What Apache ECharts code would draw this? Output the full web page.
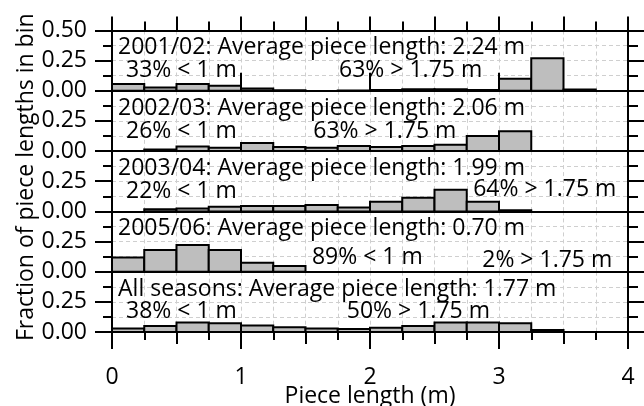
<!DOCTYPE html>
<html><head><meta charset="utf-8">
<script src="https://cdn.jsdelivr.net/npm/echarts@6/dist/echarts.min.js"></script>
<style>html,body{margin:0;padding:0;background:#fff}#c{width:644px;height:406px}</style>
</head><body><div id="c"></div><script>
// ---- data ----
const binEdges = [0,0.25,0.5,0.75,1,1.25,1.5,1.75,2,2.25,2.5,2.75,3,3.25,3.5,3.75,4];
const seasons = ['2001/02','2002/03','2003/04','2005/06','All seasons'];
const avgLength = ['2.24','2.06','1.99','0.70','1.77'];
const pctBelow1 = ['33%','26%','22%','89%','38%'];
const pctAbove175 = ['63%','63%','64%','2%','50%'];
const frac0102 = [0.057,0.028,0.056,0.042,0.020,0.004,0,0.002,0.006,0.012,0.012,0.006,0.100,0.270,0.010,0];
const frac0203 = [0,0.014,0.039,0.028,0.067,0.033,0.028,0.042,0.033,0.042,0.053,0.125,0.164,0,0,0];
const frac0304 = [0,0.017,0.025,0.039,0.044,0.044,0.053,0.033,0.080,0.114,0.180,0.080,0.010,0,0,0];
const frac0506 = [0.117,0.180,0.222,0.180,0.075,0.047,0,0,0,0,0,0,0,0,0,0];
const fracAll  = [0.030,0.050,0.078,0.072,0.053,0.039,0.030,0.025,0.036,0.050,0.078,0.078,0.072,0.017,0,0];
const panelValues = [frac0102, frac0203, frac0304, frac0506, fracAll];
const xTickLabels = ['0','1','2','3','4'];
// annotation anchors in data units [x, y]
const titleAnchor = [0.047, 0.356];
const lowAnchors  = [[0.109,0.167],[0.109,0.167],[0.109,0.162],[1.55,0.116],[0.109,0.167]];
const highAnchors = [[1.76,0.167],[1.56,0.167],[2.80,0.186],[2.87,0.097],[1.82,0.167]];

// ---- chart ----
const FS = 23, FONT = 'Open Sans';
const BLK = {color:'#000', width:2};
const DASH = {color:'#cfcfcf', width:1, type:[4,3]};
const N = 5, TOP0 = 30.5, PH = 60.3;
const TXT = {fontSize:FS, fontFamily:FONT, color:'#000', textBorderWidth:0, opacity:1};
const grids = [], xAxes = [], yAxes = [], series = [];
for (let i = 0; i < N; i++) {
  grids.push({left:112, right:16, top:TOP0 + i*PH, height:PH, outerBoundsMode:'none', containLabel:false});
  const xi = xAxes.length;
  xAxes.push({gridIndex:i, type:'value', min:0, max:4, interval:0.5, position:'bottom',
    axisLine:{show:true, onZero:false, lineStyle:BLK},
    axisTick:{show:i===N-1, length:12, lineStyle:BLK},
    minorTick:{show:i===N-1, splitNumber:2, length:8, lineStyle:BLK},
    splitLine:{show:true, lineStyle:DASH}, minorSplitLine:{show:true, lineStyle:DASH},
    axisLabel:{show:false}});
  if (i === N-1) {
    xAxes.push({gridIndex:i, type:'value', min:0, max:4, interval:1, position:'bottom',
      axisLine:{show:false}, axisTick:{show:true, length:17, lineStyle:BLK}, splitLine:{show:false},
      axisLabel:Object.assign({show:true, margin:34, formatter:(v)=>xTickLabels[Math.round(v)]}, TXT),
      name:'Piece length (m)', nameLocation:'middle', nameGap:53, nameMoveOverlap:false,
      nameTextStyle:Object.assign({}, TXT)});
  }
  if (i === 0) {
    xAxes.push({gridIndex:i, type:'value', min:0, max:4, interval:0.5, position:'top',
      axisLine:{show:true, onZero:false, lineStyle:BLK}, axisTick:{show:true, length:14, lineStyle:BLK},
      minorTick:{show:true, splitNumber:2, length:9, lineStyle:BLK}, splitLine:{show:false}, axisLabel:{show:false}});
    xAxes.push({gridIndex:i, type:'value', min:0, max:4, interval:1, position:'top',
      axisLine:{show:false}, axisTick:{show:true, length:18, lineStyle:BLK}, splitLine:{show:false}, axisLabel:{show:false}});
  }
  const yi = yAxes.length;
  const yl = {gridIndex:i, type:'value', min:0, max:0.5, interval:0.25, position:'left',
    axisLine:{show:true, onZero:false, lineStyle:BLK},
    axisTick:{show:true, length:17, lineStyle:BLK},
    minorTick:{show:true, splitNumber:2, length:9, lineStyle:BLK},
    splitLine:{show:true, lineStyle:DASH}, minorSplitLine:{show:true, lineStyle:DASH},
    axisLabel:Object.assign({show:true, margin:25, showMaxLabel:i===0, showMinLabel:true,
      formatter:(v)=>v.toFixed(2)}, TXT)};
  if (i === 2) {
    yl.name = 'Fraction of piece lengths in bin'; yl.nameLocation = 'middle'; yl.nameGap = 74;
    yl.nameMoveOverlap = false;
    yl.nameTextStyle = Object.assign({padding:[0,0,0,8]}, TXT);
  }
  yAxes.push(yl);
  yAxes.push({gridIndex:i, type:'value', min:0, max:0.5, interval:0.25, position:'right',
    axisLine:{show:true, onZero:false, lineStyle:BLK},
    axisTick:{show:true, length:16, lineStyle:BLK},
    minorTick:{show:true, splitNumber:2, length:10, lineStyle:BLK},
    splitLine:{show:false}, axisLabel:{show:false}});

  const vals = panelValues[i];
  const bins = vals.map((v, k) => [binEdges[k], binEdges[k+1], v]).filter(d => d[2] > 0);
  series.push({type:'custom', xAxisIndex:xi, yAxisIndex:yi, data:bins, z:3,
    encode:{x:[0,1], y:2},
    renderItem:(params, api) => {
      const p0 = api.coord([api.value(0), api.value(2)]);
      const p1 = api.coord([api.value(1), 0]);
      return {type:'rect', shape:{x:p0[0], y:p0[1], width:p1[0]-p0[0], height:p1[1]-p0[1]},
        style:{fill:'#bebebe', stroke:'#000', lineWidth:2}};
    }});
  const texts = [
    {value:titleAnchor, name:seasons[i] + ': Average piece length: ' + avgLength[i] + ' m'},
    {value:lowAnchors[i], name:pctBelow1[i] + ' < 1 m'},
    {value:highAnchors[i], name:pctAbove175[i] + ' > 1.75 m'}
  ];
  series.push({type:'scatter', xAxisIndex:xi, yAxisIndex:yi, data:texts, symbolSize:0, silent:true, z:5,
    itemStyle:{opacity:1},
    label:Object.assign({show:true, position:'right', distance:0, formatter:'{b}'}, TXT),
    emphasis:{disabled:true}});
}
const chart = echarts.init(document.getElementById('c'), null, {renderer:'canvas'});
chart.setOption({animation:false, backgroundColor:'#fff', grid:grids, xAxis:xAxes, yAxis:yAxes, series:series});
</script></body></html>
